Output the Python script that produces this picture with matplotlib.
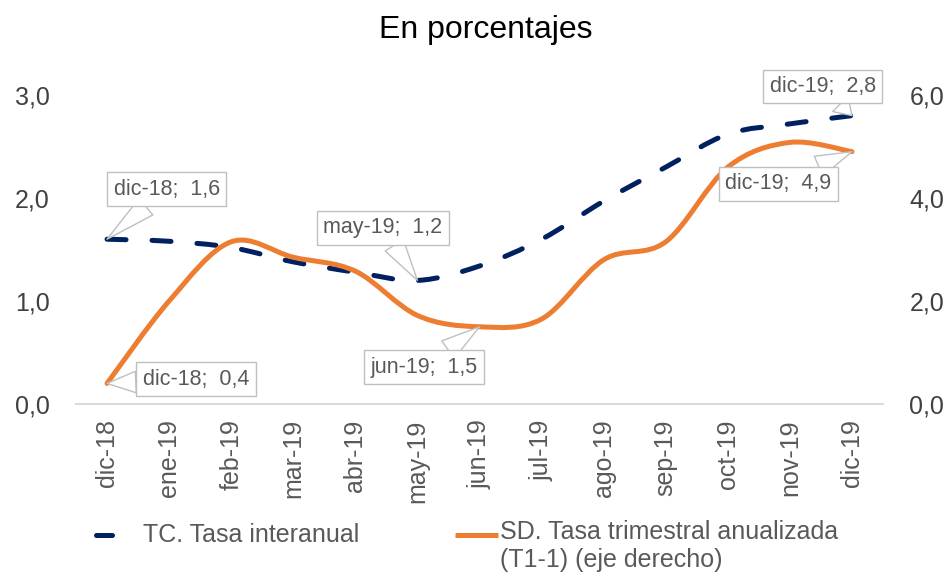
import numpy as np
import matplotlib
matplotlib.use("Agg")
import matplotlib.pyplot as plt
from matplotlib.path import Path
from matplotlib.patches import PathPatch
from matplotlib.lines import Line2D
from matplotlib.ticker import FuncFormatter

plt.rcParams['font.family'] = ['Liberation Sans', 'DejaVu Sans']

# data
months = ['dic-18', 'ene-19', 'feb-19', 'mar-19', 'abr-19', 'may-19', 'jun-19',
          'jul-19', 'ago-19', 'sep-19', 'oct-19', 'nov-19', 'dic-19']
tc = [1.6, 1.58, 1.52, 1.38, 1.28, 1.2, 1.34, 1.6, 1.97, 2.3, 2.62, 2.72, 2.8]
sd = [0.4, 2.0, 3.15, 2.85, 2.58, 1.72, 1.5, 1.65, 2.8, 3.15, 4.6, 5.08, 4.9]
tc_label = 'TC. Tasa interanual'
sd_label = 'SD. Tasa trimestral anualizada\n(T1-1) (eje derecho)'
tc_marked = [0, 5, 12]
sd_marked = [0, 6, 12]

NAVY = '#002060'
ORANGE = '#ED7D31'
GREY = '#595959'


def smooth_path(xs, ys):
    # Excel-like smoothed line: cubic Bezier segments through the points
    n = len(xs)
    verts = [(xs[0], ys[0])]
    codes = [Path.MOVETO]
    for i in range(n - 1):
        a = max(i - 1, 0)
        b = min(i + 2, n - 1)
        c1 = (xs[i] + (xs[i + 1] - xs[a]) / 6, ys[i] + (ys[i + 1] - ys[a]) / 6)
        c2 = (xs[i + 1] - (xs[b] - xs[i]) / 6, ys[i + 1] - (ys[b] - ys[i]) / 6)
        verts += [c1, c2, (xs[i + 1], ys[i + 1])]
        codes += [Path.CURVE4] * 3
    return Path(verts, codes)


def fmt(v, _=None):
    return f'{v:.1f}'.replace('.', ',')


fig = plt.figure(figsize=(9.5, 5.77), dpi=100)
ax = fig.add_axes([0.08, 0.2998, 0.8495, 0.5355])
ax2 = ax.twinx()

x = np.arange(len(months))

ax.add_patch(PathPatch(smooth_path(x, tc), fill=False, edgecolor=NAVY, lw=3.6,
                       linestyle=(0, (3.8, 5.2)), capstyle='round', joinstyle='round'))
ax2.add_patch(PathPatch(smooth_path(x, sd), fill=False, edgecolor=ORANGE, lw=3.6,
                        capstyle='round', joinstyle='round'))

ax.set_xlim(-0.5, len(months) - 0.5)
ax.set_ylim(0, 3)
ax2.set_ylim(0, 6)
ax.set_yticks([0, 1, 2, 3])
ax2.set_yticks([0, 2, 4, 6])
ax.yaxis.set_major_formatter(FuncFormatter(fmt))
ax2.yaxis.set_major_formatter(FuncFormatter(fmt))
ax.set_xticks(x)
ax.set_xticklabels(months, rotation=90)

ax.tick_params(axis='x', length=0, pad=11, labelsize=18, labelcolor=GREY)
ax.tick_params(axis='y', length=0, pad=19, labelsize=18, labelcolor='#404040')
ax2.tick_params(axis='y', length=0, pad=19, labelsize=18, labelcolor='#404040')

for a in (ax, ax2):
    for s in ('top', 'left', 'right'):
        a.spines[s].set_visible(False)
    a.spines['bottom'].set_color('#D9D9D9')
    a.spines['bottom'].set_linewidth(1.3)


def callout(axis, i, vals, off):
    axis.annotate(f'{months[i]};  {fmt(vals[i])}', xy=(i, vals[i]), xytext=off,
                  textcoords='offset points', ha='center', va='center',
                  fontsize=15.5, color=GREY, zorder=5,
                  bbox=dict(boxstyle='square,pad=0.3', fc='white', ec='#BFBFBF', lw=1),
                  arrowprops=dict(arrowstyle='wedge,tail_width=1.0', fc='white',
                                  ec='#BFBFBF', lw=1, shrinkA=0, shrinkB=0))


# label offsets in points
tc_offsets = [(43, 36), (-25, 38), (-21, 21)]
sd_offsets = [(64, 3), (-40, -29), (-53, -23)]
for i, off in zip(tc_marked, tc_offsets):
    callout(ax, i, tc, off)
for i, off in zip(sd_marked, sd_offsets):
    callout(ax2, i, sd, off)

fig.text(0.511, 1 - 30 / 577, 'En porcentajes', ha='center', va='center',
         fontsize=23, color='black')

# legend
fig.add_artist(Line2D([96 / 950, 112 / 950], [1 - 535 / 577] * 2, color=NAVY, lw=3.6,
                      solid_capstyle='round', transform=fig.transFigure))
fig.text(143 / 950, 1 - 535 / 577, tc_label, ha='left', va='center', fontsize=18, color=GREY)
fig.add_artist(Line2D([455 / 950, 498 / 950], [1 - 535 / 577] * 2, color=ORANGE, lw=3.6,
                      solid_capstyle='butt', transform=fig.transFigure))
fig.text(500 / 950, 1 - 520 / 577, sd_label, ha='left', va='top', fontsize=18, color=GREY,
         linespacing=1.2)

fig.savefig('out.png', dpi=100)
